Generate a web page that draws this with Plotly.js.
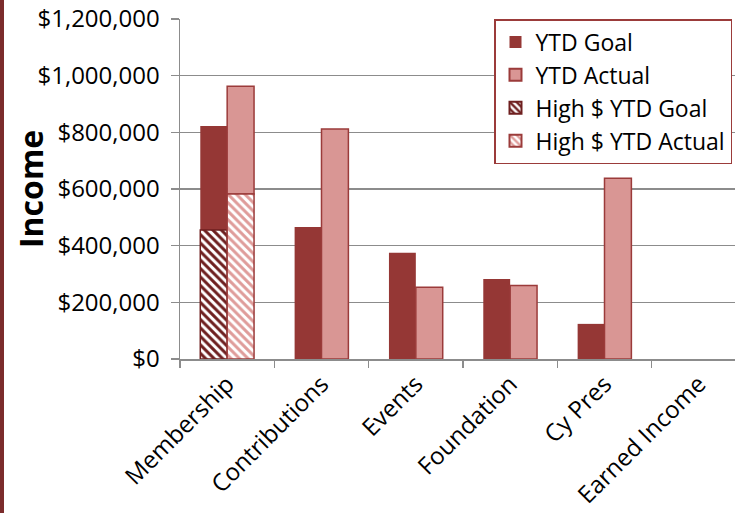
<!DOCTYPE html>
<html>
<head>
<meta charset="utf-8">
<script src="https://cdn.plot.ly/plotly-3.0.1.min.js"></script>
<style>
  html, body { margin: 0; padding: 0; background: #fff; overflow: hidden; width: 735px; height: 513px; }
  #chart { width: 760px; height: 513px; }
  #stripe { position: absolute; left: 0; top: 0; width: 4px; height: 513px; background: #7b2c2c; z-index: 10; }
</style>
</head>
<body>
<div id="stripe"></div>
<div id="chart"></div>
<script>
// Data
const categories = ['Membership', 'Contributions', 'Events', 'Foundation', 'Cy Pres', 'Earned Income'];
const highGoal   = [455000, 0, 0, 0, 0, 0];
const highActual = [582000, 0, 0, 0, 0, 0];
const ytdGoal    = [367000, 466000, 375000, 282000, 124000, 0];
const ytdActual  = [381000, 812000, 253000, 259000, 638000, 0];
const yTickVals  = [0, 200000, 400000, 600000, 800000, 1000000, 1200000];
const yTickText  = ['$0', '$200,000', '$400,000', '$600,000', '$800,000', '$1,000,000', '$1,200,000'];

const GOAL = '#953735';
const ACTUAL = '#d99694';
const EDGE = '#9b3b3a';
const FONT = 'Open Sans, Liberation Sans, sans-serif';
const edgeFor = vals => vals.map(v => (v ? 1.5 : 0));

const traces = [
  {
    type: 'bar', name: 'YTD Goal', x: categories, y: ytdGoal, base: highGoal,
    offsetgroup: 'goal',
    marker: { color: GOAL, line: { color: GOAL, width: 0 } }
  },
  {
    type: 'bar', name: 'YTD Actual', x: categories, y: ytdActual, base: highActual,
    offsetgroup: 'actual',
    marker: { color: ACTUAL, line: { color: EDGE, width: edgeFor(ytdActual) } }
  },
  {
    type: 'bar', name: 'High $ YTD Goal', x: categories, y: highGoal,
    offsetgroup: 'goal',
    marker: {
      color: '#6e1f1f', line: { color: '#6e1f1f', width: edgeFor(highGoal) },
      pattern: { shape: '\\', fillmode: 'replace', fgcolor: '#6e1f1f', bgcolor: '#ffffff', size: 6, solidity: 0.5 }
    }
  },
  {
    type: 'bar', name: 'High $ YTD Actual', x: categories, y: highActual,
    offsetgroup: 'actual',
    marker: {
      color: '#df9c9a', line: { color: EDGE, width: edgeFor(highActual) },
      pattern: { shape: '\\', fillmode: 'replace', fgcolor: '#df9c9a', bgcolor: '#ffffff', size: 6, solidity: 0.5 }
    }
  }
];

const layout = {
  width: 760, height: 513,
  margin: { l: 180, r: 14, t: 19, b: 154 },
  paper_bgcolor: '#ffffff', plot_bgcolor: '#ffffff',
  barmode: 'group', bargap: 0.43, bargroupgap: 0,
  showlegend: true,
  font: { family: FONT, size: 24, color: '#000' },
  xaxis: {
    type: 'category',
    tickson: 'boundaries', ticks: 'outside', ticklen: 7, tickwidth: 1.5, tickcolor: '#8c8c8c',
    tickangle: -45,
    tickfont: { family: FONT, size: 24, color: '#000' },
    showline: true, linecolor: '#8c8c8c', linewidth: 1.5,
    showgrid: false, zeroline: false, fixedrange: true
  },
  yaxis: {
    range: [0, 1200000],
    tickvals: yTickVals, ticktext: yTickText,
    ticks: 'outside', ticklen: 8, tickwidth: 1.5, tickcolor: '#8c8c8c',
    ticklabelstandoff: 6,
    tickfont: { family: FONT, size: 24, color: '#000' },
    showline: true, linecolor: '#8c8c8c', linewidth: 1.5,
    showgrid: true, gridcolor: '#8c8c8c', gridwidth: 1.5,
    zeroline: false, fixedrange: true
  },
  legend: {
    x: (732 - 180) / 566, xanchor: 'right', y: 1, yanchor: 'top',
    bgcolor: '#ffffff', bordercolor: EDGE, borderwidth: 1.5,
    font: { family: FONT, size: 23, color: '#000' },
    traceorder: 'normal', itemsizing: 'constant', itemwidth: 30
  },
  annotations: [{
    text: '<b>Income</b>', xref: 'paper', yref: 'paper',
    x: (30 - 180) / 566, y: 0.5, xanchor: 'center', yanchor: 'middle',
    textangle: -90, showarrow: false,
    font: { family: FONT, size: 32, color: '#000' }
  }]
};

Plotly.newPlot('chart', traces, layout, { displayModeBar: false, staticPlot: true });
</script>
</body>
</html>
